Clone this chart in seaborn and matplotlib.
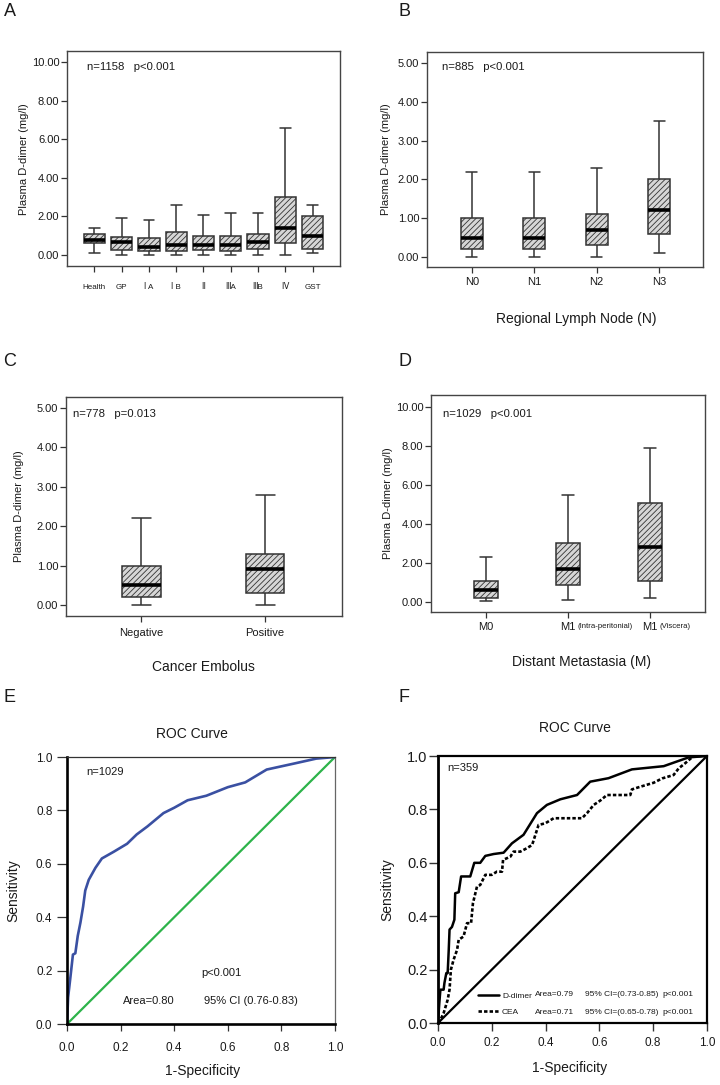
"""
Plasma D-dimer by stage / node / embolus / metastasis, plus two ROC panels
"""

import matplotlib
matplotlib.use("Agg")
import matplotlib.pyplot as plt
import numpy as np
import pandas as pd
import seaborn as sns

stage_groups = ["Health", "GP", "Ⅰ A", "Ⅰ B", "Ⅱ", "ⅢA", "ⅢB", "Ⅳ", "GST"]
stage_low = [0.1, 0.0, 0.0, 0.0, 0.0, 0.0, 0.0, 0.0, 0.1]
stage_q1 = [0.6, 0.25, 0.2, 0.2, 0.25, 0.2, 0.3, 0.6, 0.3]
stage_med = [0.8, 0.7, 0.4, 0.5, 0.5, 0.5, 0.7, 1.4, 1.0]
stage_q3 = [1.1, 0.95, 0.9, 1.2, 1.0, 1.0, 1.1, 3.0, 2.0]
stage_high = [1.4, 1.9, 1.8, 2.6, 2.1, 2.2, 2.2, 6.6, 2.6]

# Panel B - regional lymph node
node_groups = ["N0", "N1", "N2", "N3"]
node_low = [0.0, 0.0, 0.0, 0.1]
node_q1 = [0.2, 0.2, 0.3, 0.6]
node_med = [0.5, 0.5, 0.7, 1.2]
node_q3 = [1.0, 1.0, 1.1, 2.0]
node_high = [2.2, 2.2, 2.3, 3.5]

# Panel C - cancer embolus
emb_groups = ["Negative", "Positive"]
emb_low = [0.0, 0.0]
emb_q1 = [0.2, 0.3]
emb_med = [0.5, 0.9]
emb_q3 = [1.0, 1.3]
emb_high = [2.2, 2.8]

# Panel D - distant metastasis
met_groups = ["M0", "M1", "M1 "]
met_notes = ["", "(Intra-peritonial)", "(Viscera)"]
met_low = [0.05, 0.1, 0.2]
met_q1 = [0.2, 0.9, 1.1]
met_med = [0.6, 1.7, 2.8]
met_q3 = [1.1, 3.0, 5.05]
met_high = [2.3, 5.5, 7.9]

# Panel E - ROC of D-dimer, n=1029
e_fpr = [0.0, 0.004, 0.012, 0.022, 0.031, 0.04, 0.05, 0.06, 0.068, 0.081,
         0.106, 0.13, 0.174, 0.224, 0.26, 0.30, 0.36, 0.40, 0.45, 0.52,
         0.60, 0.665, 0.745, 0.845, 0.93, 1.0]
e_tpr = [0.0, 0.10, 0.17, 0.26, 0.265, 0.33, 0.38, 0.44, 0.50, 0.54,
         0.585, 0.62, 0.645, 0.675, 0.71, 0.74, 0.79, 0.81, 0.838, 0.855,
         0.887, 0.905, 0.953, 0.975, 0.994, 1.0]

# Panel F - ROC of D-dimer vs CEA, n=359
f_dd_fpr = [0.0, 0.005, 0.009, 0.021, 0.024, 0.031, 0.036, 0.04, 0.043,
            0.052, 0.061, 0.064, 0.077, 0.086, 0.12, 0.135, 0.157, 0.176,
            0.207, 0.244, 0.275, 0.318, 0.368, 0.405, 0.455, 0.517, 0.566,
            0.634, 0.721, 0.839, 0.932, 1.0]
f_dd_tpr = [0.0, 0.075, 0.125, 0.125, 0.15, 0.187, 0.187, 0.274, 0.35,
            0.36, 0.387, 0.486, 0.49, 0.549, 0.549, 0.6, 0.6, 0.626,
            0.633, 0.638, 0.673, 0.705, 0.786, 0.817, 0.838, 0.854, 0.904,
            0.917, 0.95, 0.962, 0.995, 1.0]
f_cea_fpr = [0.0, 0.009, 0.021, 0.036, 0.043, 0.048, 0.058, 0.071, 0.077,
             0.095, 0.108, 0.123, 0.13, 0.145, 0.157, 0.176, 0.2, 0.219,
             0.238, 0.242, 0.269, 0.281, 0.306, 0.331, 0.35, 0.374, 0.399,
             0.43, 0.535, 0.554, 0.579, 0.603, 0.628, 0.715, 0.721, 0.752,
             0.802, 0.833, 0.876, 0.895, 0.919, 0.95, 1.0]
f_cea_tpr = [0.0, 0.012, 0.037, 0.087, 0.125, 0.2, 0.237, 0.274, 0.312,
             0.324, 0.374, 0.374, 0.449, 0.511, 0.517, 0.555, 0.555, 0.567,
             0.567, 0.611, 0.623, 0.642, 0.642, 0.655, 0.667, 0.742, 0.748,
             0.767, 0.767, 0.786, 0.817, 0.833, 0.854, 0.854, 0.875, 0.885,
             0.9, 0.916, 0.929, 0.954, 0.973, 1.0, 1.0]
chance = [0.0, 1.0]

roc_ticks = [0.0, 0.2, 0.4, 0.6, 0.8, 1.0]

sns.set_style("white")
plt.rcParams["font.family"] = ["Liberation Sans", "DejaVu Sans", "DejaVu Serif"]
plt.rcParams["hatch.linewidth"] = 0.6
plt.rcParams["text.color"] = "#1a1a1a"
plt.rcParams["axes.labelcolor"] = "#1a1a1a"
plt.rcParams["xtick.color"] = "#333333"
plt.rcParams["ytick.color"] = "#333333"
plt.rcParams["xtick.labelcolor"] = "#1a1a1a"
plt.rcParams["ytick.labelcolor"] = "#1a1a1a"


def box_frame(groups, low, q1, med, q3, high):
    """Five values per group: numpy's linear quartiles give back q1/med/q3 exactly"""
    rows = []
    for g, *vals in zip(groups, low, q1, med, q3, high):
        rows += [(g, v) for v in vals]
    return pd.DataFrame(rows, columns=["group", "value"])


def box_panel(ax, groups, stats, width, ylim, yticks, xlim, note, note_xy,
              ylabel_x, xlab=None, xlab_xy=None, xtick_size=8, xtick_pad=3.5):
    df = box_frame(groups, *stats)
    sns.boxplot(data=df, x="group", y="value", order=groups, ax=ax,
                width=width, whis=(0, 100), color="#d6d6d6",
                linecolor="#333333", linewidth=1.1, fliersize=0,
                saturation=1,
                medianprops={"color": "black", "linewidth": 2.6})
    for patch in ax.patches:
        patch.set_hatch("//////")
    ax.set_ylim(*ylim)
    ax.set_xlim(*xlim)
    ax.set_yticks(yticks)
    ax.set_yticklabels([f"{t:.2f}" for t in yticks])
    for side in ["top", "right", "left", "bottom"]:
        ax.spines[side].set_visible(True)
        ax.spines[side].set_color("#444444")
        ax.spines[side].set_linewidth(1.0)
    ax.tick_params(axis="y", direction="out", length=4, width=0.9,
                   labelsize=8, pad=1.5, left=True)
    ax.tick_params(axis="x", direction="out", length=4, width=0.9,
                   labelsize=xtick_size, pad=xtick_pad, bottom=True)
    ax.set_ylabel("Plasma D-dimer (mg/l)", fontsize=8)
    ax.yaxis.set_label_coords(ylabel_x, 0.5)
    ax.set_xlabel(xlab if xlab else "", fontsize=10)
    if xlab:
        ax.xaxis.set_label_coords(*xlab_xy)
    ax.text(note_xy[0], note_xy[1], note, transform=ax.transAxes,
            fontsize=8.2, va="center", ha="left")


fig = plt.figure(figsize=(7.2, 10.85), dpi=100)

# A
ax_a = fig.add_axes([0.0931, 0.7548, 0.379, 0.198])
box_panel(ax_a, stage_groups,
          (stage_low, stage_q1, stage_med, stage_q3, stage_high),
          0.78, (-0.57, 10.57), [0, 2, 4, 6, 8, 10], (-1, 9),
          "n=1158   p<0.001", (0.074, 0.926), -0.139,
          xtick_size=5.8, xtick_pad=9)

# B
ax_b = fig.add_axes([0.593, 0.7539, 0.383, 0.198])
box_panel(ax_b, node_groups,
          (node_low, node_q1, node_med, node_q3, node_high),
          0.35, (-0.26, 5.28), [0, 1, 2, 3, 4, 5], (-0.72, 3.7),
          "n=885   p<0.001", (0.054, 0.93), -0.130,
          xlab="Regional Lymph Node (N)", xlab_xy=(0.543, -0.21))

# C
ax_c = fig.add_axes([0.0917, 0.4323, 0.383, 0.2018])
box_panel(ax_c, emb_groups,
          (emb_low, emb_q1, emb_med, emb_q3, emb_high),
          0.31, (-0.28, 5.28), [0, 1, 2, 3, 4, 5], (-0.61, 1.62),
          "n=778   p=0.013", (0.025, 0.922), -0.152,
          xlab="Cancer Embolus", xlab_xy=(0.5, -0.203), xtick_pad=4.5)

# D
ax_d = fig.add_axes([0.5986, 0.4359, 0.3806, 0.2])
box_panel(ax_d, met_groups,
          (met_low, met_q1, met_med, met_q3, met_high),
          0.30, (-0.51, 10.6), [0, 2, 4, 6, 8, 10], (-0.67, 2.67),
          "n=1029   p<0.001", (0.044, 0.912), -0.138,
          xlab="Distant Metastasia (M)", xlab_xy=(0.551, -0.2),
          xtick_pad=3)
ax_d.set_xticks(range(len(met_groups)))
ax_d.set_xticklabels([g.strip() for g in met_groups])
for i, txt in enumerate(met_notes):
    if txt:
        ax_d.annotate(txt, xy=(i, 0), xycoords=ax_d.get_xaxis_transform(),
                      xytext=(7, -10.5), textcoords="offset points",
                      fontsize=5.6, ha="left", va="center")

# E
ax_e = fig.add_axes([0.0931, 0.0562, 0.3722, 0.2461])
sns.lineplot(x=chance, y=chance, ax=ax_e, color="#2db34a", linewidth=1.6)
sns.lineplot(x=e_fpr, y=e_tpr, ax=ax_e, color="#3a50a2", linewidth=1.9,
             sort=False, estimator=None)
ax_e.set_xlim(0, 1)
ax_e.set_ylim(0, 1)
ax_e.set_xticks(roc_ticks)
ax_e.set_yticks(roc_ticks)
ax_e.set_xticklabels([f"{t:.1f}" for t in roc_ticks])
ax_e.set_yticklabels([f"{t:.1f}" for t in roc_ticks])
ax_e.get_xticklabels()[-1].set_fontsize(11)
for side in ["left", "bottom"]:
    ax_e.spines[side].set_color("black")
    ax_e.spines[side].set_linewidth(1.9)
ax_e.spines["top"].set_color("#333333")
ax_e.spines["top"].set_linewidth(0.9)
ax_e.spines["right"].set_color("#666666")
ax_e.spines["right"].set_linewidth(0.9)
ax_e.tick_params(axis="y", direction="out", length=7, width=0.9,
                 labelsize=8.5, pad=3.5, left=True)
ax_e.tick_params(axis="x", direction="out", length=5, width=0.9,
                 labelsize=8.5, pad=8, bottom=True)
ax_e.set_title("ROC Curve", fontsize=10, x=0.466, pad=14)
ax_e.set_ylabel("Sensitivity", fontsize=10)
ax_e.yaxis.set_label_coords(-0.174, 0.5)
ax_e.set_xlabel("1-Specificity", fontsize=10)
ax_e.xaxis.set_label_coords(0.507, -0.148)
ax_e.text(0.071, 0.944, "n=1029", fontsize=8, va="center")
ax_e.text(0.50, 0.19, "p<0.001", fontsize=8, va="center")
ax_e.text(0.21, 0.085, "Area=0.80", fontsize=8, va="center")
ax_e.text(0.51, 0.085, "95% CI (0.76-0.83)", fontsize=8, va="center")

# F
ax_f = fig.add_axes([0.6083, 0.0571, 0.3736, 0.2461])
sns.lineplot(x=chance, y=chance, ax=ax_f, color="black", linewidth=1.6)
sns.lineplot(x=f_dd_fpr, y=f_dd_tpr, ax=ax_f, color="black", linewidth=1.8,
             sort=False, estimator=None, label="D-dimer")
sns.lineplot(x=f_cea_fpr, y=f_cea_tpr, ax=ax_f, color="black",
             linewidth=1.9, sort=False, estimator=None, label="CEA",
             linestyle=(0, (1.3, 0.8)))
ax_f.set_xlim(0, 1)
ax_f.set_ylim(0, 1)
ax_f.set_xticks(roc_ticks)
ax_f.set_yticks(roc_ticks)
ax_f.set_xticklabels([f"{t:.1f}" for t in roc_ticks])
ax_f.set_yticklabels([f"{t:.1f}" for t in roc_ticks])
for side in ["top", "right", "left", "bottom"]:
    ax_f.spines[side].set_color("black")
    ax_f.spines[side].set_linewidth(1.6)
ax_f.spines["left"].set_linewidth(2.0)
ax_f.tick_params(axis="y", direction="out", length=6.5, width=1.0,
                 labelsize=10.5, pad=1, left=True)
ax_f.tick_params(axis="x", direction="out", length=6, width=1.0,
                 labelsize=8.5, pad=4, bottom=True)
ax_f.set_title("ROC Curve", fontsize=10, x=0.51, pad=17)
ax_f.set_ylabel("Sensitivity", fontsize=10)
ax_f.yaxis.set_label_coords(-0.164, 0.5)
ax_f.set_xlabel("1-Specificity", fontsize=10)
ax_f.xaxis.set_label_coords(0.49, -0.141)
ax_f.text(0.036, 0.957, "n=359", fontsize=8, va="center")
ax_f.legend(loc="lower left", bbox_to_anchor=(0.12, 0.0), frameon=False,
            fontsize=6, handlelength=2.6, handletextpad=0.3,
            labelspacing=0.95, borderpad=0.4)
for y, area, ci in [(0.106, "Area=0.79", "95% CI=(0.73-0.85)"),
                    (0.041, "Area=0.71", "95% CI=(0.65-0.78)")]:
    ax_f.text(0.36, y, area, fontsize=6, va="center")
    ax_f.text(0.545, y, ci, fontsize=6, va="center")
    ax_f.text(0.833, y, "p<0.001", fontsize=6, va="center")

# panel letters
for letter, x, y in [("A", 0.005, 0.989), ("B", 0.554, 0.989),
                     ("C", 0.005, 0.6664), ("D", 0.554, 0.6664),
                     ("E", 0.005, 0.3576), ("F", 0.553, 0.3576)]:
    fig.text(x, y, letter, fontsize=13, va="center", ha="left")

fig.savefig("out.png", dpi=100)
plt.close(fig)
